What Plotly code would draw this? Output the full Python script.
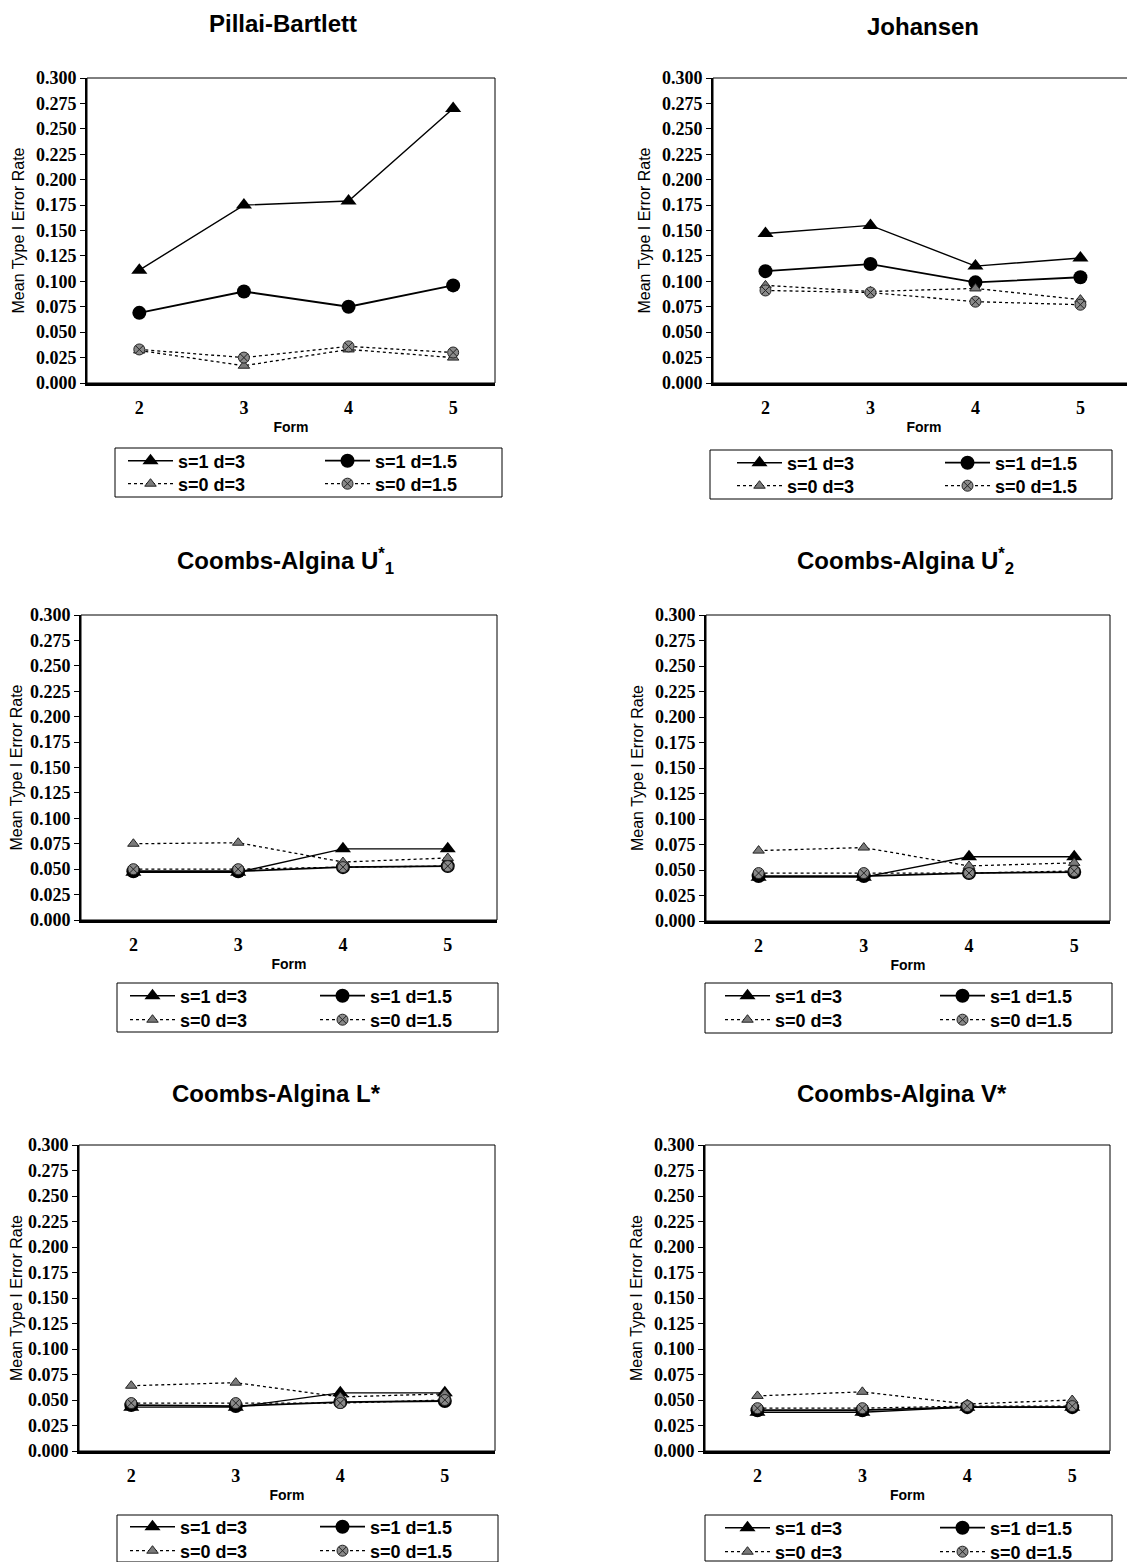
import plotly.graph_objects as go

FIG_W, FIG_H = 1135, 1562
OFF = 8  # page margin of the html body, compensated in all placements

# ---------------- data ----------------
forms = [2, 3, 4, 5]
form_labels = ["2", "3", "4", "5"]
series_names = ["s=1 d=3", "s=1 d=1.5", "s=0 d=3", "s=0 d=1.5"]
y_tick_vals = [0.000, 0.025, 0.050, 0.075, 0.100, 0.125, 0.150,
               0.175, 0.200, 0.225, 0.250, 0.275, 0.300]

panel_titles = ["Pillai-Bartlett", "Johansen",
                "Coombs-Algina U<sup>*</sup><sub>1</sub>",
                "Coombs-Algina U<sup>*</sup><sub>2</sub>",
                "Coombs-Algina L*", "Coombs-Algina V*"]

pillai_s1_d3 = [0.111, 0.175, 0.179, 0.270]
pillai_s1_d15 = [0.069, 0.090, 0.075, 0.096]
pillai_s0_d3 = [0.032, 0.017, 0.033, 0.025]
pillai_s0_d15 = [0.033, 0.025, 0.036, 0.030]

johansen_s1_d3 = [0.147, 0.155, 0.115, 0.123]
johansen_s1_d15 = [0.110, 0.117, 0.099, 0.104]
johansen_s0_d3 = [0.096, 0.090, 0.093, 0.082]
johansen_s0_d15 = [0.091, 0.089, 0.080, 0.077]

u1_s1_d3 = [0.047, 0.047, 0.070, 0.070]
u1_s1_d15 = [0.048, 0.048, 0.052, 0.053]
u1_s0_d3 = [0.075, 0.076, 0.057, 0.061]
u1_s0_d15 = [0.050, 0.050, 0.052, 0.053]

u2_s1_d3 = [0.043, 0.043, 0.063, 0.063]
u2_s1_d15 = [0.044, 0.044, 0.047, 0.048]
u2_s0_d3 = [0.069, 0.072, 0.054, 0.057]
u2_s0_d15 = [0.047, 0.047, 0.047, 0.049]

l_s1_d3 = [0.043, 0.043, 0.057, 0.057]
l_s1_d15 = [0.045, 0.044, 0.048, 0.049]
l_s0_d3 = [0.064, 0.067, 0.053, 0.056]
l_s0_d15 = [0.047, 0.047, 0.047, 0.050]

v_s1_d3 = [0.038, 0.038, 0.043, 0.043]
v_s1_d15 = [0.040, 0.040, 0.043, 0.043]
v_s0_d3 = [0.054, 0.058, 0.046, 0.050]
v_s0_d15 = [0.042, 0.042, 0.044, 0.044]

panel_data = [
    [pillai_s1_d3, pillai_s1_d15, pillai_s0_d3, pillai_s0_d15],
    [johansen_s1_d3, johansen_s1_d15, johansen_s0_d3, johansen_s0_d15],
    [u1_s1_d3, u1_s1_d15, u1_s0_d3, u1_s0_d15],
    [u2_s1_d3, u2_s1_d15, u2_s0_d3, u2_s0_d15],
    [l_s1_d3, l_s1_d15, l_s0_d3, l_s0_d15],
    [v_s1_d3, v_s1_d15, v_s0_d3, v_s0_d15],
]

# ---------------- layout geometry (page pixels) ----------------
frames = [
    dict(l=87, r=495, t=78, b=383, xmax=5.40, tx=283, ty=23),
    dict(l=713, r=1135, t=78, b=383, xmax=5.52, tx=923, ty=27),
    dict(l=81, r=497, t=615, b=920, xmax=5.47, tx=285, ty=561),
    dict(l=706, r=1110, t=615, b=921, xmax=5.34, tx=905, ty=561),
    dict(l=79, r=495, t=1145, b=1451, xmax=5.48, tx=276, ty=1093),
    dict(l=705, r=1110, t=1145, b=1451, xmax=5.36, tx=902, ty=1093),
]
# legend box and entry anchors: marker centre x of the two columns, row centres y
legboxes = [
    dict(l=115, r=502, t=448, b=497, c1=150, c2=347, r1=461, r2=484),
    dict(l=710, r=1112, t=450, b=499, c1=759, c2=967, r1=463, r2=486),
    dict(l=117, r=498, t=983, b=1032, c1=152, c2=342, r1=996, r2=1020),
    dict(l=705, r=1112, t=983, b=1033, c1=747, c2=962, r1=996, r2=1020),
    dict(l=117, r=498, t=1515, b=1562, c1=152, c2=342, r1=1527, r2=1551),
    dict(l=705, r=1112, t=1515, b=1561, c1=747, c2=962, r1=1528, r2=1552),
]

styles = [
    dict(symbol="triangle-up", size=14, color="black", lc="black", lw=0, dash="solid", width=1.4),
    dict(symbol="circle", size=14, color="black", lc="black", lw=0, dash="solid", width=1.8),
    dict(symbol="triangle-up", size=10, color="#7a7a7a", lc="#222", lw=1, dash="dot", width=1.3),
    dict(symbol="circle-x", size=11, color="#8a8a8a", lc="#222", lw=1, dash="dot", width=1.3),
]

def px(x):
    return (x - OFF) / FIG_W

def py(y):
    return 1 - (y - OFF) / FIG_H

fig = go.Figure()
layout = dict(
    width=FIG_W, height=FIG_H,
    margin=dict(l=0, r=0, t=0, b=0, autoexpand=False),
    paper_bgcolor="white", plot_bgcolor="white",
    showlegend=True,
    font=dict(family="Liberation Sans, Arial", color="black"),
    annotations=[], shapes=[],
)

leg_marker_offset = 27  # marker centre relative to legend left edge

for i, (fr, lb) in enumerate(zip(frames, legboxes)):
    ax = "" if i == 0 else str(i + 1)
    xname, yname = "x" + ax, "y" + ax
    leg_pos = [(lb["c1"], lb["r1"]), (lb["c2"], lb["r1"]),
               (lb["c1"], lb["r2"]), (lb["c2"], lb["r2"])]
    for k in range(4):
        st = styles[k]
        legname = "legend" if (i == 0 and k == 0) else "legend" + str(4 * i + k + 1)
        fig.add_trace(go.Scatter(
            x=forms, y=panel_data[i][k], name=series_names[k],
            mode="lines+markers", xaxis=xname, yaxis=yname,
            legend=legname, showlegend=True,
            line=dict(color="black", width=st["width"], dash=st["dash"]),
            marker=dict(symbol=st["symbol"], size=st["size"], color=st["color"],
                        line=dict(color=st["lc"], width=st["lw"])),
        ))
        cx, cy = leg_pos[k]
        layout[legname] = dict(
            orientation="v", xanchor="left", yanchor="middle",
            x=px(cx - leg_marker_offset), y=py(cy),
            bgcolor="rgba(0,0,0,0)", borderwidth=0, itemwidth=45,
            font=dict(family="Liberation Sans, Arial", size=18, weight="bold"))
    layout["xaxis" + ax] = dict(
        domain=[px(fr["l"]), px(fr["r"])], anchor=yname,
        range=[1.5, fr["xmax"]], tickvals=forms, ticktext=form_labels,
        showgrid=False, zeroline=False, showline=True, linewidth=3, linecolor="black",
        ticks="", ticklabelstandoff=6,
        tickfont=dict(family="Liberation Serif, Times New Roman", size=18, weight="bold"),
        title=dict(text="Form", standoff=6,
                   font=dict(family="Liberation Sans, Arial", size=14, weight="bold")),
    )
    layout["yaxis" + ax] = dict(
        domain=[py(fr["b"]), py(fr["t"])], anchor=xname,
        range=[0, 0.3], tickvals=y_tick_vals, tickformat=".3f",
        showgrid=False, zeroline=False, showline=True, linewidth=2, linecolor="black",
        ticks="outside", ticklen=5, tickwidth=1, tickcolor="black",
        tickfont=dict(family="Liberation Serif, Times New Roman", size=18, weight="bold"),
        title=dict(text="Mean Type I Error Rate", standoff=7,
                   font=dict(family="Liberation Sans, Arial", size=16)),
    )
    # companion axis giving the inner half of the crossing tick marks
    layout["yaxis" + str(i + 7)] = dict(
        overlaying=yname, anchor=xname, side="left",
        range=[0, 0.3], tickvals=y_tick_vals, showticklabels=False,
        showgrid=False, zeroline=False, showline=False,
        ticks="inside", ticklen=5, tickwidth=1, tickcolor="black",
    )
    # thin frame around plot area
    layout["shapes"].append(dict(type="rect", xref=xname + " domain", yref=yname + " domain",
                                 x0=0, x1=1, y0=0, y1=1, line=dict(color="black", width=1),
                                 layer="below"))
    # legend box
    layout["shapes"].append(dict(type="rect", xref="paper", yref="paper",
                                 x0=px(lb["l"]), x1=px(lb["r"]), y0=py(lb["b"]), y1=py(lb["t"]),
                                 line=dict(color="black", width=1)))
    # panel title
    layout["annotations"].append(dict(
        text=panel_titles[i], xref="paper", yref="paper", x=px(fr["tx"]), y=py(fr["ty"]),
        xanchor="center", yanchor="middle", showarrow=False,
        font=dict(family="Liberation Sans, Arial", size=24, weight="bold")))

fig.update_layout(**layout)
fig.write_html("out.html")
